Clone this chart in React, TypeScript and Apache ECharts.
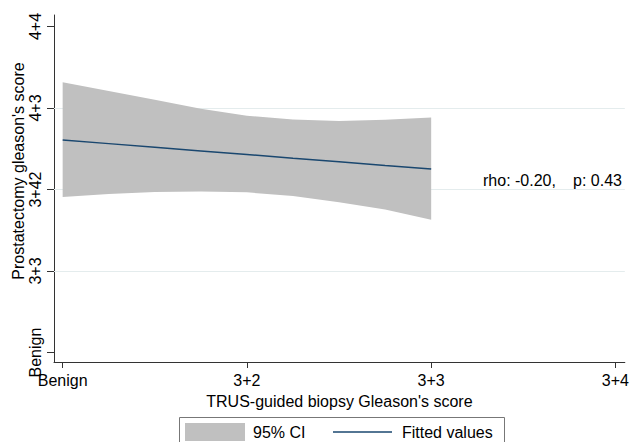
import React, { useEffect, useRef } from "react";
import * as echarts from "echarts";

// Axis ticks and labels
const xTickValues = [1, 2, 3, 4];
const xTickLabels = ["Benign", "3+2", "3+3", "3+4"];
const yTickValues = [1, 2, 3, 4, 5];
const yTickLabels = ["Benign", "3+3", "3+42", "4+3", "4+4"];
const gridValues = [2, 3, 4];

// Fitted values and 95% CI
const fitX = [1, 1.25, 1.5, 1.75, 2, 2.25, 2.5, 2.75, 3];
const fitted = [3.608, 3.563, 3.518, 3.473, 3.429, 3.384, 3.340, 3.295, 3.251];
const ciUpper = [4.317, 4.21, 4.10, 3.99, 3.905, 3.86, 3.842, 3.855, 3.884];
const ciLower = [2.908, 2.945, 2.969, 2.976, 2.965, 2.92, 2.845, 2.754, 2.63];

const FONT = "Liberation Sans, Arial, sans-serif";
const NAVY = "#1a476f";
const BAND = "#c0c0c0";

export default function App() {
  const ref = useRef<HTMLDivElement>(null);
  useEffect(() => {
    if (!ref.current) return;
    document.body.style.margin = "0";
    const chart = echarts.init(ref.current, undefined, { renderer: "svg" });
    const fitData = fitX.map((x, i) => [x, fitted[i]]);
    const bandData = fitX.map((x, i) => [x, ciLower[i], ciUpper[i]]);
    chart.setOption({
      animation: false,
      backgroundColor: "#ffffff",
      grid: { left: 54, right: 5, top: 15, bottom: 80, containLabel: false },
      xAxis: {
        type: "value",
        min: 0.953,
        max: 4.051,
        axisLine: { show: true, lineStyle: { color: "#333", width: 1 } },
        axisTick: { show: true, customValues: xTickValues, length: 6, lineStyle: { color: "#333" } },
        axisLabel: {
          customValues: xTickValues,
          formatter: (v: number) => xTickLabels[xTickValues.indexOf(v)] ?? "",
          fontSize: 16,
          color: "#000",
          fontFamily: FONT,
          margin: 10,
        },
        splitLine: { show: false },
        name: "TRUS-guided biopsy Gleason's score",
        nameLocation: "middle",
        nameGap: 31,
        nameTextStyle: { fontSize: 16, color: "#000", fontFamily: FONT },
      },
      yAxis: {
        type: "value",
        min: 0.884,
        max: 5.141,
        axisLine: { show: true, lineStyle: { color: "#333", width: 1 } },
        axisTick: { show: true, customValues: yTickValues, length: 7, lineStyle: { color: "#333" } },
        axisLabel: {
          customValues: yTickValues,
          formatter: (v: number) => yTickLabels[yTickValues.indexOf(v)] ?? "",
          rotate: 90,
          fontSize: 16,
          color: "#000",
          fontFamily: FONT,
          margin: 11,
        },
        splitLine: { show: false },
      },
      series: [
        {
          type: "custom",
          name: "95% CI",
          data: bandData,
          z: 2,
          silent: true,
          encode: { x: 0, y: [1, 2] },
          renderItem: (params: any, api: any) => {
            if (params.dataIndex !== 0) return null;
            const upper = bandData.map((d) => api.coord([d[0], d[2]]));
            const lower = bandData.map((d) => api.coord([d[0], d[1]])).reverse();
            return {
              type: "polygon",
              shape: { points: upper.concat(lower) },
              style: { fill: BAND, stroke: "none" },
            };
          },
          markLine: {
            silent: true,
            symbol: "none",
            label: { show: false },
            lineStyle: { color: "#e4eced", width: 1, type: "solid" },
            data: gridValues.map((v) => ({ yAxis: v })),
            z: 1,
          },
        },
        {
          type: "line",
          name: "Fitted values",
          data: fitData,
          symbol: "none",
          lineStyle: { color: NAVY, width: 1.5 },
          z: 3,
          silent: true,
        },
      ],
      graphic: [
        {
          type: "text",
          x: 18,
          y: 171,
          rotation: Math.PI / 2,
          style: {
            text: "Prostatectomy gleason's score",
            fontSize: 16,
            fontFamily: FONT,
            fill: "#000",
            align: "center",
            verticalAlign: "middle",
          },
        },
        {
          type: "text",
          x: 483,
          y: 180,
          style: { text: "rho: -0.20,", fontSize: 16, fontFamily: FONT, fill: "#000", align: "left", verticalAlign: "middle" },
        },
        {
          type: "text",
          x: 622,
          y: 180,
          style: { text: "p: 0.43", fontSize: 16, fontFamily: FONT, fill: "#000", align: "right", verticalAlign: "middle" },
        },
        {
          type: "rect",
          shape: { x: 179.5, y: 417.5, width: 325, height: 30 },
          style: { fill: "#fff", stroke: "#777", lineWidth: 1 },
        },
        {
          type: "rect",
          shape: { x: 185, y: 423, width: 60, height: 18 },
          style: { fill: BAND },
        },
        {
          type: "text",
          x: 253,
          y: 432,
          style: { text: "95% CI", fontSize: 16, fontFamily: FONT, fill: "#000", verticalAlign: "middle" },
        },
        {
          type: "line",
          shape: { x1: 333, y1: 432, x2: 392, y2: 432 },
          style: { stroke: NAVY, lineWidth: 1.5 },
        },
        {
          type: "text",
          x: 402,
          y: 432,
          style: { text: "Fitted values", fontSize: 16, fontFamily: FONT, fill: "#000", verticalAlign: "middle" },
        },
      ],
    });
    return () => chart.dispose();
  }, []);
  return <div ref={ref} style={{ width: 632, height: 442, position: "absolute", left: 0, top: 0 }} />;
}
